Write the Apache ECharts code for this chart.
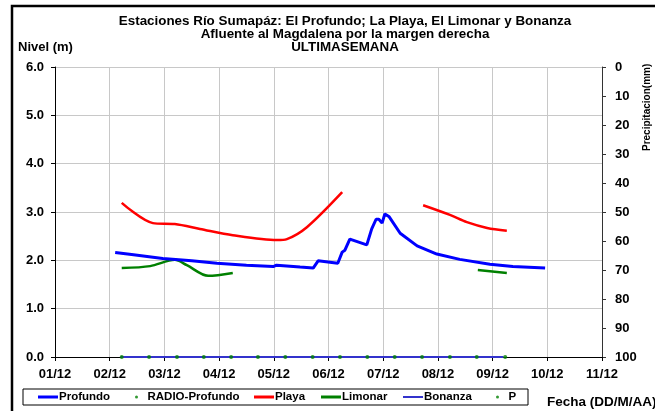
<!DOCTYPE html>
<html>
<head>
<meta charset="utf-8">
<script src="https://cdn.jsdelivr.net/npm/echarts@6/dist/echarts.min.js"></script>
<style>
  html, body { margin: 0; padding: 0; background: #fff; }
  #chart { width: 655px; height: 411px; }
</style>
</head>
<body>
<div id="chart"></div>
<script>
// datos (dia de diciembre, nivel en m)
const profundo = [
  [2.10, 2.16], [2.40, 2.12], [2.97, 2.04], [3.50, 1.99], [3.96, 1.94], [4.50, 1.90],
  [4.99, 1.87], [5.05, 1.90], [5.48, 1.86], [5.72, 1.84], [5.81, 1.99], [6.17, 1.94],
  [6.25, 2.17], [6.30, 2.21], [6.39, 2.44], [6.70, 2.32], [6.79, 2.65], [6.87, 2.85],
  [6.92, 2.85], [6.98, 2.77], [7.03, 2.96], [7.11, 2.90], [7.31, 2.56], [7.62, 2.30],
  [7.98, 2.13], [8.40, 2.02], [8.95, 1.92], [9.37, 1.87], [9.96, 1.84]
];
const playa = [
  [2.22, 3.19], [2.79, 2.77], [3.19, 2.75], [3.65, 2.65], [4.25, 2.52], [5.06, 2.42],
  [5.24, 2.44], [5.61, 2.69], [6.25, 3.41], null,
  [7.73, 3.14], [8.22, 2.94], [8.53, 2.79], [8.90, 2.67], [9.26, 2.61]
];
const limonar = [
  [2.22, 1.84], [2.74, 1.88], [3.19, 2.01], [3.41, 1.90], [3.80, 1.68], [4.25, 1.74], null,
  [8.73, 1.80], [9.26, 1.74]
];
const bonanza = [[2.2, 0], [9.2, 0]];
const radioProfundo = [
  [2.22, 0], [2.72, 0], [3.23, 0], [3.72, 0], [4.22, 0], [4.71, 0], [5.21, 0], [5.71, 0],
  [6.21, 0], [6.71, 0], [7.21, 0], [7.71, 0], [8.22, 0], [8.71, 0], [9.23, 0]
];
const precip = [];

const titulo = [
  'Estaciones Río Sumapáz: El Profundo; La Playa, El Limonar y Bonanza',
  'Afluente al Magdalena por la margen derecha',
  'ULTIMASEMANA'
];

const fuente = 'Liberation Sans, Arial, sans-serif';
const chart = echarts.init(document.getElementById('chart'));

// una leyenda por serie para colocar cada entrada como en el original
const leyenda = (nombre, left, icon, alto) => ({
  left: left,
  top: 391,
  padding: 0,
  itemWidth: 20,
  itemHeight: alto,
  icon: icon,
  data: [nombre],
  textStyle: { fontSize: 11.5, fontWeight: 'bold', color: '#000', fontFamily: fuente, padding: [0, 0, 0, -4] }
});

chart.setOption({
  animation: false,
  backgroundColor: '#fff',
  textStyle: { fontFamily: fuente },
  title: {
    text: titulo.join('\n'),
    left: 340,
    textAlign: 'center',
    top: 10,
    textStyle: { fontSize: 13.4, fontWeight: 'bold', color: '#000', lineHeight: 13, fontFamily: fuente }
  },
  grid: { left: 55, right: 53, top: 67, bottom: 54 },
  legend: [
    leyenda('Profundo', 38, 'rect', 3),
    leyenda('RADIO-Profundo', 135, 'circle', 3),
    leyenda('Playa', 254, 'rect', 3),
    leyenda('Limonar', 321, 'rect', 3),
    leyenda('Bonanza', 403, 'rect', 2),
    leyenda('P', 496, 'circle', 3)
  ],
  xAxis: {
    type: 'value',
    min: 1,
    max: 11,
    interval: 1,
    axisLine: { lineStyle: { color: '#000' } },
    axisTick: { length: 4, lineStyle: { color: '#000' } },
    splitLine: { show: true, lineStyle: { color: '#c8c8c8' } },
    axisLabel: {
      color: '#000', fontWeight: 'bold', fontSize: 13, margin: 11,
      formatter: v => String(v).padStart(2, '0') + '/12'
    }
  },
  yAxis: [
    {
      type: 'value',
      min: 0,
      max: 6,
      interval: 1,
      axisLine: { show: true, lineStyle: { color: '#000' } },
      axisTick: { show: true, length: 4, lineStyle: { color: '#000' } },
      splitLine: { lineStyle: { color: '#c8c8c8' } },
      axisLabel: { color: '#000', fontWeight: 'bold', fontSize: 13, margin: 11, formatter: v => v.toFixed(1) }
    },
    {
      type: 'value',
      min: 0,
      max: 100,
      interval: 10,
      inverse: true,
      position: 'right',
      axisLine: { show: true, lineStyle: { color: '#333' } },
      axisTick: { show: true, length: 4, lineStyle: { color: '#333' } },
      splitLine: { show: false },
      axisLabel: { color: '#000', fontWeight: 'bold', fontSize: 13, margin: 13 }
    }
  ],
  graphic: [
    {
      type: 'rect',
      shape: { x: 12, y: 6, width: 700, height: 500 },
      style: { fill: null, stroke: '#000', lineWidth: 2.5 },
      silent: true
    },
    {
      type: 'rect',
      shape: { x: 23, y: 389, width: 505, height: 16 },
      style: { fill: null, stroke: '#000', lineWidth: 1 },
      silent: true,
      z: -1
    },
    {
      type: 'text',
      left: 18,
      top: 41,
      style: { text: 'Nivel (m)', fill: '#000', font: 'bold 13px ' + fuente }
    },
    {
      type: 'text',
      left: 547,
      top: 395,
      style: { text: 'Fecha (DD/M/AA)', fill: '#000', font: 'bold 13.5px ' + fuente }
    },
    {
      type: 'text',
      x: 642,
      y: 151,
      rotation: Math.PI / 2,
      style: { text: 'Precipitacion(mm)', fill: '#000', font: 'bold 10px ' + fuente }
    }
  ],
  series: [
    {
      name: 'Profundo', type: 'line', data: profundo, showSymbol: false, symbol: 'none',
      lineStyle: { color: '#0000ff', width: 3 }, itemStyle: { color: '#0000ff' }, z: 5
    },
    {
      name: 'RADIO-Profundo', type: 'scatter', data: radioProfundo, symbolSize: 4,
      itemStyle: { color: '#008000' }, z: 6
    },
    {
      name: 'Playa', type: 'line', data: playa, smooth: 0.3, showSymbol: false, symbol: 'none',
      lineStyle: { color: '#ff0000', width: 2.5 }, itemStyle: { color: '#ff0000' }
    },
    {
      name: 'Limonar', type: 'line', data: limonar, smooth: 0.3, showSymbol: false, symbol: 'none',
      lineStyle: { color: '#008000', width: 2.5 }, itemStyle: { color: '#008000' }
    },
    {
      name: 'Bonanza', type: 'line', data: bonanza, showSymbol: false, symbol: 'none',
      lineStyle: { color: '#3333cc', width: 2 }, itemStyle: { color: '#3333cc' }
    },
    {
      name: 'P', type: 'scatter', yAxisIndex: 1, data: precip, symbolSize: 4,
      itemStyle: { color: '#008000' }
    }
  ]
});
</script>
</body>
</html>
